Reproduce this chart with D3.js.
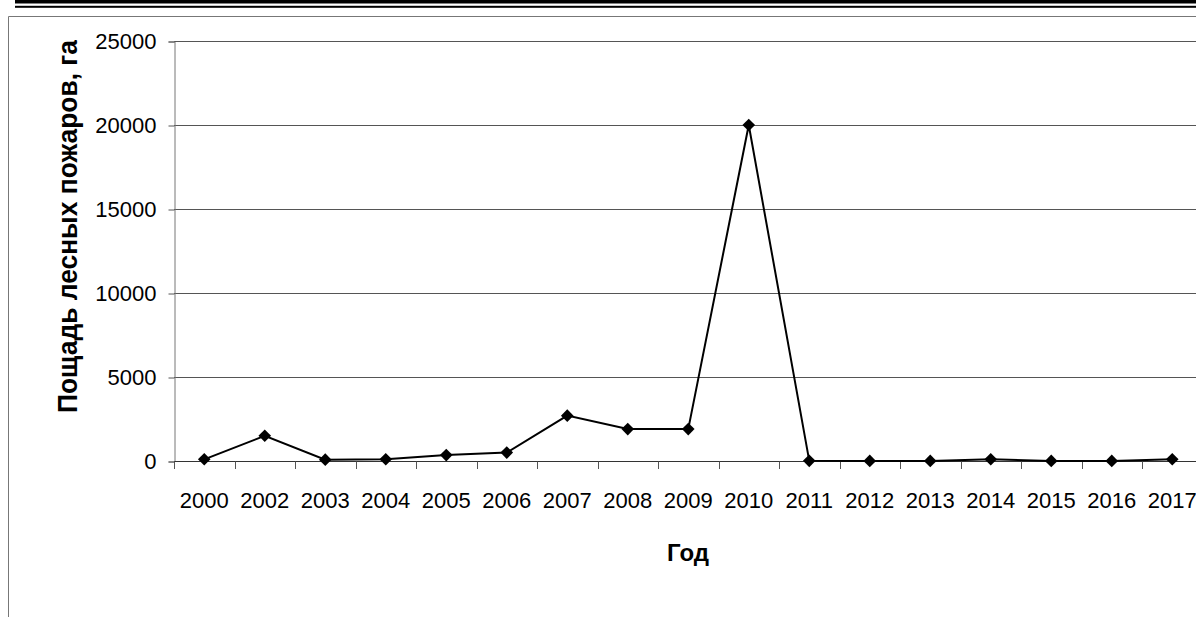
<!DOCTYPE html>
<html><head><meta charset="utf-8">
<script src="https://cdn.jsdelivr.net/npm/d3@7"></script>
<style>html,body{margin:0;padding:0;background:#fff;overflow:hidden}</style>
</head><body>
<script>
const years = ["2000","2002","2003","2004","2005","2006","2007","2008","2009","2010","2011","2012","2013","2014","2015","2016","2017"];
const areas = [100,1500,80,100,350,500,2700,1900,1900,20000,10,5,5,100,5,5,100];
const yTicks = [0,5000,10000,15000,20000,25000];
const yTitle = "Пощадь лесных пожаров, га";
const xTitle = "Год";

const W = 1196, H = 617;
const svg = d3.select("body").append("svg").attr("width", W).attr("height", H)
  .style("font-family", "'Liberation Sans', Arial, sans-serif");
svg.append("rect").attr("width", W).attr("height", H).attr("fill", "#fff");

// header double rule
svg.append("rect").attr("x", 15).attr("y", 0).attr("width", W - 15).attr("height", 3.5).attr("fill", "#000");
svg.append("rect").attr("x", 15).attr("y", 5.8).attr("width", W - 15).attr("height", 2).attr("fill", "#000");
// frame
svg.append("path").attr("d", `M8.5,${H}V16.5H${W}`).attr("fill", "none").attr("stroke", "#777").attr("stroke-width", 1);

const left = 174, bandW = 60.5;
const x = d3.scaleBand().domain(years).range([left, left + bandW * years.length]).padding(0);
const y = d3.scaleLinear().domain([0, 25000]).range([461, 41]);

// grid
svg.append("g").selectAll("line").data(yTicks.filter(d => d > 0)).join("line")
  .attr("x1", left).attr("x2", W).attr("y1", d => Math.round(y(d)) + 0.5).attr("y2", d => Math.round(y(d)) + 0.5)
  .attr("stroke", "#555").attr("stroke-width", 1);

// y axis
const yAxis = svg.append("g").attr("transform", `translate(${left + 0.5},0.5)`)
  .call(d3.axisLeft(y).tickValues(yTicks).tickSize(6).tickPadding(12).tickFormat(d3.format("d")));
yAxis.select(".domain").attr("stroke", "#777");
yAxis.selectAll(".tick line").attr("stroke", "#555");
yAxis.selectAll(".tick text").attr("font-size", 22).attr("fill", "#000").attr("font-family", "'Liberation Sans', Arial, sans-serif");

// x axis
const boundaries = years.map(d => x(d)).concat([x(years[years.length - 1]) + bandW]);
svg.append("line").attr("x1", left).attr("x2", W).attr("y1", 461.5).attr("y2", 461.5).attr("stroke", "#333");
svg.append("g").selectAll("line").data(boundaries).join("line")
  .attr("x1", d => Math.round(d) + 0.5).attr("x2", d => Math.round(d) + 0.5)
  .attr("y1", 461.5).attr("y2", 469).attr("stroke", "#555");
svg.append("g").selectAll("text").data(years).join("text")
  .attr("x", d => x(d) + bandW / 2).attr("y", 508).attr("text-anchor", "middle")
  .attr("font-size", 22).attr("fill", "#000").text(d => d);

// line
const line = d3.line().x((d, i) => x(years[i]) + bandW / 2).y(d => y(d));
svg.append("path").datum(areas).attr("d", line).attr("fill", "none").attr("stroke", "#000").attr("stroke-width", 2);
const r = 6.3;
svg.append("g").selectAll("path").data(areas).join("path")
  .attr("d", (d, i) => {
    const cx = x(years[i]) + bandW / 2, cy = y(d);
    return `M${cx},${cy - r}L${cx + r},${cy}L${cx},${cy + r}L${cx - r},${cy}Z`;
  }).attr("fill", "#000");

// titles
svg.append("text").attr("transform", "translate(77,226.5) rotate(-90)")
  .attr("text-anchor", "middle").attr("font-weight", "bold").attr("font-size", 27)
  .attr("textLength", 373).attr("lengthAdjust", "spacingAndGlyphs").text(yTitle);
svg.append("text").attr("x", 688).attr("y", 561).attr("text-anchor", "middle")
  .attr("font-weight", "bold").attr("font-size", 24).text(xTitle);
</script>
</body></html>
